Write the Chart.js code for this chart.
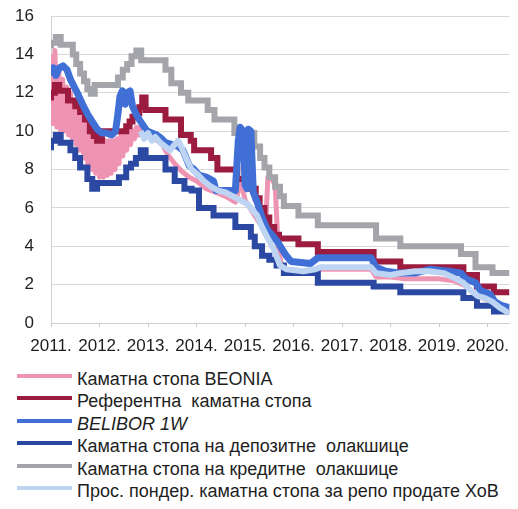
<!DOCTYPE html>
<html>
<head>
<meta charset="utf-8">
<script src="https://cdn.jsdelivr.net/npm/chart.js@4.4.1/dist/chart.umd.min.js"></script>
<style>
  body { margin: 0; background: #fff; width: 518px; height: 509px; overflow: hidden; font-family: "Liberation Sans", Arial, sans-serif; }
  #wrap { position: absolute; left: 0; top: 0; width: 518px; height: 358px; }
  #legend { position: absolute; left: 0; top: 368px; }
  .item { position: relative; height: 22.4px; line-height: 22.4px; font-size: 18px; color: #1e1e1e; white-space: pre; padding-left: 77px; }
  .swatch { position: absolute; left: 17px; top: 6px; width: 55px; height: 4px; }
</style>
</head>
<body>
<div id="wrap"><canvas id="chart" width="518" height="358"></canvas></div>
<div id="legend"></div>
<script>
// series names, in legend order
const seriesNames = [
  "Каматна стопа BEONIA",
  "Референтна  каматна стопа",
  "BELIBOR 1W",
  "Каматна стопа на депозитне  олакшице",
  "Каматна стопа на кредитне  олакшице",
  "Прос. пондер. каматна стопа за репо продате ХоВ"
];
const seriesColors = ["#ef93b3", "#9c1c3f", "#4070d6", "#2b48a3", "#a4a4ab", "#bdd4f3"];

// BEONIA (daily swings in 2011-2012, then smoother)
const beoniaDates = [
  2011.00, 2011.04, 2011.08, 2011.12, 2011.16, 2011.20, 2011.24, 2011.28, 2011.32, 2011.36,
  2011.40, 2011.44, 2011.48, 2011.52, 2011.56, 2011.60, 2011.64, 2011.68, 2011.72, 2011.76,
  2011.80, 2011.84, 2011.88, 2011.92, 2011.96, 2012.00, 2012.04, 2012.08, 2012.12, 2012.16,
  2012.20, 2012.24, 2012.28, 2012.32, 2012.36, 2012.40, 2012.44, 2012.48, 2012.52, 2012.56,
  2012.60, 2012.64, 2012.68, 2012.72, 2012.76, 2012.80, 2012.84, 2012.88, 2012.92,
  2013.00, 2013.10, 2013.20, 2013.30, 2013.40, 2013.55, 2013.70, 2013.85, 2014.00, 2014.20,
  2014.40, 2014.60, 2014.80, 2014.92, 2015.00, 2015.10, 2015.20, 2015.30, 2015.42, 2015.47,
  2015.55, 2015.62, 2015.68, 2015.75, 2015.85, 2016.00, 2016.30, 2016.50, 2017.00, 2017.60,
  2017.70, 2018.00, 2018.30, 2018.70, 2019.00, 2019.30, 2019.50, 2019.70, 2019.90, 2020.10,
  2020.30, 2020.45
];
const beoniaRates = [
  14.0, 10.4, 14.2, 10.2, 13.2, 10.0, 12.7, 10.0, 12.3, 9.8,
  12.0, 9.6, 11.6, 9.3, 11.1, 9.0, 10.7, 8.6, 10.4, 8.2,
  10.1, 8.0, 9.9, 7.8, 9.7, 7.6, 9.6, 7.6, 9.5, 7.7,
  9.5, 7.8, 9.5, 8.0, 9.6, 8.3, 9.8, 8.7, 10.0, 9.0,
  10.0, 9.3, 10.0, 9.6, 10.2, 9.8, 10.2, 9.9, 10.0,
  9.8, 9.6, 9.5, 9.3, 8.8, 8.3, 7.9, 7.6, 7.4, 7.0,
  6.8, 6.6, 6.3, 7.4, 6.4, 6.0, 5.6, 5.2, 4.8, 7.6,
  7.5, 7.2, 4.0, 3.0, 2.7, 2.6, 2.6, 2.8, 2.8, 2.8,
  2.4, 2.4, 2.3, 2.3, 2.3, 2.2, 2.0, 1.6, 1.3, 1.1,
  0.8, 0.6
];

// reference (key policy) rate, changes
const refDates = [2011.00, 2011.08, 2011.17, 2011.35, 2011.50, 2011.60, 2011.70, 2011.80, 2011.88, 2011.95,
  2012.05, 2012.55, 2012.62, 2012.68, 2012.76, 2012.82, 2012.88, 2012.95, 2013.36, 2013.68,
  2013.88, 2013.95, 2014.30, 2014.43, 2014.84, 2015.10, 2015.22, 2015.30, 2015.40, 2015.50,
  2015.60, 2015.70, 2016.10, 2016.50, 2017.65, 2018.20, 2019.50, 2019.78, 2020.13, 2020.38, 2020.45];
const refRates = [11.6, 12.0, 12.4, 12.1, 11.6, 11.3, 11.0, 10.6, 10.0, 9.75,
  9.5, 10.0, 10.25, 10.5, 10.75, 10.95, 11.25, 11.75, 11.1, 10.6,
  9.8, 9.5, 9.0, 8.6, 8.0, 7.5, 7.0, 6.5, 6.0, 5.5,
  5.0, 4.6, 4.4, 4.1, 3.7, 3.2, 2.9, 2.5, 1.9, 1.6, 1.6];

// BELIBOR 1W
const belDates = [2011.00, 2011.05, 2011.10, 2011.17, 2011.25, 2011.33, 2011.40, 2011.48, 2011.56, 2011.65,
  2011.75, 2011.85, 2011.95, 2012.05, 2012.15, 2012.25, 2012.33, 2012.38, 2012.42, 2012.47,
  2012.53, 2012.57, 2012.63, 2012.68, 2012.75, 2012.82, 2012.90, 2012.98, 2013.08, 2013.18,
  2013.28, 2013.36, 2013.50, 2013.62, 2013.72, 2013.85, 2013.95, 2014.05, 2014.20, 2014.35,
  2014.40, 2014.60, 2014.80, 2014.86, 2014.90, 2014.96, 2015.00, 2015.04, 2015.07, 2015.12,
  2015.17, 2015.25, 2015.35, 2015.45, 2015.55, 2015.65, 2015.75, 2015.85, 2015.95, 2016.35,
  2016.50, 2017.00, 2017.60, 2017.70, 2017.90, 2018.20, 2018.50, 2018.80, 2019.20, 2019.45,
  2019.55, 2019.75, 2019.85, 2020.05, 2020.15, 2020.30, 2020.45];
const belRates = [12.9, 13.3, 12.9, 13.3, 13.4, 13.2, 12.7, 12.3, 11.9, 11.4,
  10.9, 10.5, 10.1, 9.9, 9.9, 9.8, 10.0, 10.9, 11.8, 12.1,
  11.4, 12.0, 12.1, 11.3, 10.9, 10.6, 10.3, 10.0, 9.9, 9.8,
  9.6, 9.4, 9.3, 9.2, 9.0, 8.2, 8.0, 7.7, 7.6, 7.4,
  6.9, 6.9, 6.9, 9.5, 10.2, 10.0, 7.2, 7.0, 10.1, 10.0,
  6.8, 6.3, 5.5, 4.9, 4.6, 4.3, 3.9, 3.5, 3.2, 3.1,
  3.4, 3.4, 3.4, 2.9, 2.7, 2.6, 2.6, 2.8, 2.7, 2.6,
  2.3, 2.1, 1.7, 1.5, 1.1, 0.9, 0.8];

// deposit facility rate, changes
const depDates = [2011.00, 2011.10, 2011.20, 2011.40, 2011.50, 2011.60, 2011.75, 2011.85, 2011.95, 2012.40,
  2012.55, 2012.65, 2012.75, 2012.85, 2012.95, 2013.36, 2013.55, 2013.75, 2013.90, 2014.05,
  2014.35, 2014.80, 2015.12, 2015.20, 2015.35, 2015.50, 2015.65, 2015.80, 2016.50, 2017.65,
  2018.20, 2019.50, 2019.78, 2020.13, 2020.38, 2020.45];
const depRates = [9.0, 9.5, 9.8, 9.4, 9.0, 8.6, 8.1, 7.5, 7.0, 7.3,
  7.6, 8.1, 8.3, 8.6, 9.0, 8.6, 8.0, 7.4, 7.0, 6.9,
  6.0, 5.6, 5.0, 4.5, 4.0, 3.5, 3.3, 3.0, 2.6, 2.1,
  1.9, 1.6, 1.3, 0.9, 0.6, 0.6];

// lending facility rate, changes
const lendDates = [2011.00, 2011.10, 2011.20, 2011.45, 2011.52, 2011.60, 2011.68, 2011.75, 2011.82, 2011.90,
  2012.38, 2012.48, 2012.57, 2012.66, 2012.76, 2012.86, 2013.36, 2013.48, 2013.68, 2013.83,
  2014.23, 2014.37, 2014.78, 2015.19, 2015.31, 2015.40, 2015.50, 2015.62, 2015.72, 2015.80,
  2016.10, 2016.50, 2017.70, 2018.20, 2019.45, 2019.75, 2020.10, 2020.38, 2020.45];
const lendRates = [14.3, 14.6, 14.9, 14.5, 14.0, 13.5, 13.0, 12.6, 12.2, 11.95,
  12.4, 12.8, 13.2, 13.5, 13.9, 14.2, 13.7, 13.2, 12.5, 12.0,
  11.6, 11.1, 10.6, 9.9, 9.2, 8.6, 8.1, 7.6, 7.1, 6.6,
  6.1, 5.6, 5.1, 4.4, 4.0, 3.6, 2.9, 2.6, 2.6];

// weighted average repo rate (from late 2012)
const repoDates = [2012.85, 2012.92, 2013.00, 2013.08, 2013.15, 2013.25, 2013.35, 2013.45, 2013.55, 2013.62,
  2013.70, 2013.80, 2013.90, 2014.00, 2014.15, 2014.30, 2014.45, 2014.60, 2014.75, 2014.90,
  2015.05, 2015.15, 2015.25, 2015.35, 2015.45, 2015.60, 2015.72, 2015.85, 2016.20, 2016.45,
  2016.55, 2017.00, 2017.60, 2017.70, 2018.00, 2018.20, 2018.50, 2018.80, 2019.10, 2019.35,
  2019.50, 2019.65, 2019.80, 2019.95, 2020.10, 2020.25, 2020.45];
const repoRates = [10.0, 9.6, 9.9, 9.5, 9.7, 9.4, 9.2, 9.0, 9.3, 9.5,
  9.1, 8.5, 8.0, 7.8, 7.4, 7.1, 6.9, 6.8, 6.6, 6.4,
  6.2, 5.9, 5.6, 5.0, 4.5, 3.8, 3.0, 2.8, 2.7, 2.8,
  2.9, 2.9, 2.9, 2.6, 2.5, 2.6, 2.7, 2.7, 2.6, 2.3,
  2.1, 1.7, 1.4, 1.3, 1.1, 0.8, 0.5];

const yearTicks = [2011, 2012, 2013, 2014, 2015, 2016, 2017, 2018, 2019, 2020];

const pts = (xs, ys) => xs.map((x, i) => ({ x: x, y: ys[i] }));
const FONT = "'Liberation Sans', Arial, sans-serif";

const series = [
  { data: pts(beoniaDates, beoniaRates), width: 5, stepped: false, order: 6 },
  { data: pts(refDates, refRates), width: 6, stepped: 'after', order: 5 },
  { data: pts(belDates, belRates), width: 7, stepped: false, order: 3 },
  { data: pts(depDates, depRates), width: 6, stepped: 'after', order: 2 },
  { data: pts(lendDates, lendRates), width: 6, stepped: 'after', order: 4 },
  { data: pts(repoDates, repoRates), width: 6, stepped: false, order: 1 }
];

new Chart(document.getElementById("chart"), {
  type: "line",
  data: {
    datasets: series.map((s, i) => ({
      label: seriesNames[i],
      data: s.data,
      borderColor: seriesColors[i],
      backgroundColor: seriesColors[i],
      borderWidth: s.width,
      stepped: s.stepped,
      order: s.order,
      pointRadius: 0,
      tension: 0,
      fill: false,
      borderJoinStyle: s.stepped ? "miter" : "round"
    }))
  },
  options: {
    responsive: false,
    animation: false,
    layout: { padding: { top: 16, right: 2, left: 0, bottom: 0 } },
    plugins: { legend: { display: false }, tooltip: { enabled: false } },
    scales: {
      x: {
        type: "linear",
        min: 2011,
        max: 2020.45,
        afterFit: (s) => { s.height = 35; },
        afterBuildTicks: (s) => { s.ticks = yearTicks.map((v) => ({ value: v })); },
        ticks: {
          autoSkip: false,
          maxRotation: 0,
          padding: 9,
          color: "#1e1e1e",
          font: { family: FONT, size: 17 },
          callback: (v) => v + "."
        },
        grid: { drawOnChartArea: false, drawTicks: true, tickLength: 4, color: "#c8c8c8" },
        border: { color: "#cfcfcf" }
      },
      y: {
        min: 0,
        max: 16,
        // fixed width; label overhang is covered by the layout padding
        afterFit: (s) => { s.width = 51; s.paddingTop = 0; s.paddingBottom = 0; },
        ticks: { stepSize: 2, padding: 17, color: "#1e1e1e", font: { family: FONT, size: 17 } },
        grid: { color: "#d8d8d8", drawTicks: false },
        border: { color: "#d0d0d0" }
      }
    }
  }
});

// legend below the chart
const legend = document.getElementById("legend");
seriesNames.forEach((name, i) => {
  const row = document.createElement("div");
  row.className = "item";
  const sw = document.createElement("span");
  sw.className = "swatch";
  sw.style.background = seriesColors[i];
  row.appendChild(sw);
  const txt = document.createElement("span");
  txt.textContent = name;
  if (i === 2) txt.style.fontStyle = "italic";
  row.appendChild(txt);
  legend.appendChild(row);
});
</script>
</body>
</html>
